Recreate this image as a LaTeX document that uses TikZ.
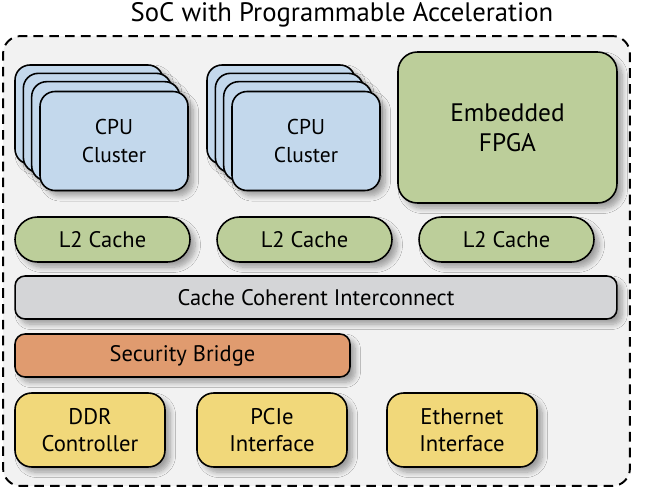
\documentclass[tikz,border=0pt]{standalone}
\usepackage{fontspec}
\setmainfont{PT Sans}
\usepackage{tikz}
\usetikzlibrary{positioning, shapes.misc, shadows.blur}

\definecolor{cpublue}{HTML}{C3D8EC}
\definecolor{cachegreen}{HTML}{BCCE9A}
\definecolor{busgray}{HTML}{D4D5D7}
\definecolor{secorange}{HTML}{E09B6F}
\definecolor{ioyellow}{HTML}{F1D87A}
\definecolor{socgray}{HTML}{F2F2F2}

\tikzset{
    block/.style={draw=black, line width=0.9pt, align=center, inner sep=0pt,
        blur shadow={shadow xshift=3pt, shadow yshift=-3pt, shadow blur steps=8, shadow blur radius=3pt, shadow opacity=35}},
    cpucard/.style={block, fill=cpublue, rounded corners=8.5pt, minimum width=2.96cm, minimum height=1.98cm,
        font=\fontsize{12.2}{15.5}\selectfont},
    cachepill/.style={block, rounded rectangle, fill=cachegreen, minimum width=3.5cm, minimum height=0.9cm,
        font=\fontsize{12.8}{15}\selectfont},
    iobox/.style={block, fill=ioyellow, rounded corners=9.5pt, minimum width=3.0cm, minimum height=1.48cm,
        font=\fontsize{12.9}{15.5}\selectfont}
}

\begin{document}
\begin{tikzpicture}[x=0.02cm, y=-0.02cm]
    \useasboundingbox (0,0) rectangle (646,497);

    % SoC outline and title
    \node[draw=black, fill=socgray, line width=1.1pt, dash pattern=on 5.5pt off 3.5pt,
          rounded corners=10pt, minimum width=12.54cm, minimum height=9.0cm] (soc) at (316.5,261) {};
    \node[font=\fontsize{15.2}{18}\selectfont] (title) at (342,15) {SoC with Programmable Acceleration};

    % CPU clusters, stacked cards
    \foreach \i in {3,2,1} {
        \node[cpucard] at (114-8.33*\i,139.5-8.33*\i) {};
        \node[cpucard] at (306-8.33*\i,139.5-8.33*\i) {};
    }
    \node[cpucard] (cpuA) at (114,141) {CPU\\Cluster};
    \node[cpucard] (cpuB) at (306,141) {CPU\\Cluster};

    % FPGA fabric
    \node[block, fill=cachegreen, rounded corners=11pt, minimum width=4.38cm, minimum height=3.02cm,
          font=\fontsize{14.4}{17}\selectfont] (fpga) at (507.5,127.5) {Embedded\\FPGA};

    % L2 caches
    \node[cachepill] (cacheA) at (102.5,239.5) {L2 Cache};
    \node[cachepill] (cacheB) at (304.5,239.5) {L2 Cache};
    \node[cachepill] (cacheC) at (506.5,239.5) {L2 Cache};

    % Interconnect and bridge
    \node[block, fill=busgray, rounded corners=5.7pt, minimum width=12.04cm, minimum height=0.86cm,
          font=\fontsize{12.8}{15}\selectfont] (cci) at (316,297.5) {Cache Coherent Interconnect};
    \node[block, fill=secorange, rounded corners=5.7pt, minimum width=6.7cm, minimum height=0.86cm,
          font=\fontsize{12.8}{15}\selectfont] (secbridge) at (182.5,355.5) {Security Bridge};

    % Peripherals
    \node[iobox] (ddr) at (90,430) {DDR\\Controller};
    \node[iobox] (pcie) at (272,430) {PCIe\\Interface};
    \node[iobox] (eth) at (462,430) {Ethernet\\Interface};
\end{tikzpicture}
\end{document}
